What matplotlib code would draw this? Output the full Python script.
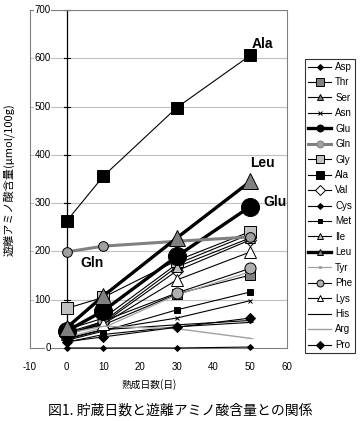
import matplotlib
matplotlib.use("Agg")
import matplotlib.pyplot as plt
from matplotlib.lines import Line2D

plt.rcParams['font.family'] = ['Liberation Sans', 'Noto Sans CJK JP', 'DejaVu Sans']

days = [0, 10, 30, 50]
names = ["Asp", "Thr", "Ser", "Asn", "Glu", "Gln", "Gly", "Ala", "Val", "Cys",
         "Met", "Ile", "Leu", "Tyr", "Phe", "Lys", "His", "Arg", "Pro"]
asp = [20, 38, 48, 57]
thr = [30, 48, 112, 151]
ser = [38, 62, 174, 236]
asn = [18, 38, 62, 98]
glu = [35, 77, 190, 293]
gln = [199, 211, 221, 230]
gly = [82, 105, 181, 241]
ala = [263, 356, 498, 606]
val = [30, 52, 160, 224]
cys = [0, 0, 0, 2]
met = [16, 35, 79, 116]
ile = [32, 55, 168, 228]
leu = [42, 108, 228, 345]
tyr = [22, 42, 110, 158]
phe = [25, 56, 114, 165]
lys = [28, 50, 141, 199]
his = [12, 28, 44, 53]
arg = [30, 45, 40, 20]
pro = [13, 23, 43, 62]
values = [asp, thr, ser, asn, glu, gln, gly, ala, val, cys,
          met, ile, leu, tyr, phe, lys, his, arg, pro]
yticks = [0, 100, 200, 300, 400, 500, 600, 700]
xticks = [-10, 0, 10, 20, 30, 40, 50, 60]
labels = {"Ala": (50.5, 630), "Leu": (50, 384), "Glu": (53.5, 302), "Gln": (3.8, 176)}

# style: color, lw, marker, plot ms, legend ms, mfc
styles = {
    "Asp": ("black", 0.8, "D", 3, 3, "black"),
    "Thr": ("black", 0.8, "s", 7, 6, "#808080"),
    "Ser": ("black", 0.8, "^", 7, 5, "#808080"),
    "Asn": ("black", 0.8, "x", 3, 3, "black"),
    "Glu": ("black", 2.4, "o", 13, 5, "black"),
    "Gln": ("#808080", 2.2, "o", 7, 5, "#a0a0a0"),
    "Gly": ("black", 0.8, "s", 9, 6, "#c0c0c0"),
    "Ala": ("black", 0.8, "s", 9, 6, "black"),
    "Val": ("black", 0.8, "D", 6, 5, "white"),
    "Cys": ("black", 0.8, "D", 3, 3, "black"),
    "Met": ("black", 0.8, "s", 4, 3, "black"),
    "Ile": ("black", 0.8, "^", 7, 5, "#c0c0c0"),
    "Leu": ("black", 2.4, "^", 12, 5, "#808080"),
    "Tyr": ("#a0a0a0", 0.9, "s", 3, 2, "#a0a0a0"),
    "Phe": ("black", 0.8, "o", 8, 5, "#b0b0b0"),
    "Lys": ("black", 0.8, "^", 8, 5, "white"),
    "His": ("black", 0.8, "_", 4, 3, "black"),
    "Arg": ("#a0a0a0", 1.0, "_", 4, 3, "#a0a0a0"),
    "Pro": ("black", 0.8, "D", 5, 4, "black"),
}

fig = plt.figure(figsize=(3.64, 4.21), dpi=100)
ax = fig.add_axes([30/364, 1-348/421, 257/364, 338/421])
ax.set_xlim(-10, 60)
ax.set_ylim(0, 700)
for s in ax.spines.values():
    s.set_color("#808080")
    s.set_linewidth(0.8)
for y in yticks[1:]:
    ax.axhline(y, color="#c0c0c0", lw=0.8, zorder=0)
ax.axvline(0, color="black", lw=0.9, zorder=1)
ax.set_yticks([])
ax.set_xticks(xticks)
ax.set_xticklabels([str(t) for t in xticks], fontsize=7)
ax.tick_params(axis="x", length=0, pad=10)
for y in yticks:
    ax.plot([-0.8, 0.8], [y, y], color="black", lw=0.8, zorder=2, clip_on=False)
    ax.text(-4.3, y, str(y), ha="right", va="center", fontsize=7,
            bbox=dict(facecolor="white", edgecolor="none", pad=0.3), zorder=3)

for i, n in enumerate(names):
    c, lw, m, ms, lms, mfc = styles[n]
    if n in ("Tyr", "Arg"):
        mec = c
    else:
        mec = "black"
    ax.plot(days, values[i], color=c, lw=lw, marker=m, ms=ms, mfc=mfc,
            mec=mec, mew=0.7, zorder=4 + (2 if lw > 2 else 0), clip_on=False)

for t, (x, y) in labels.items():
    ax.text(x, y, t, fontsize=10, fontweight="bold", ha="left", va="center", zorder=10)

handles = []
for n in names:
    c, lw, m, ms, lms, mfc = styles[n]
    mec = c if n in ("Tyr", "Arg") else "black"
    if n == "Gln":
        mec = "#808080"
    handles.append(Line2D([0], [0], color=c, lw=lw, marker=m, ms=lms, mfc=mfc,
                          mec=mec, mew=0.7))
leg = fig.legend(handles, names, loc="upper left", bbox_to_anchor=(305/364, 1-59/421),
                 fontsize=7, frameon=True, fancybox=False, edgecolor="black",
                 labelspacing=0.56, handlelength=2.4, handletextpad=0.4,
                 borderpad=0.3, borderaxespad=0)
leg.get_frame().set_linewidth(0.8)

fig.text(10/364, 1-180/421, "遊離アミノ酸含量(μmol/100g)", rotation=90,
         ha="center", va="center", fontsize=8, family=["Noto Sans CJK JP", "DejaVu Sans"])
fig.text(149/364, 1-385/421, "熟成日数(日)", ha="center", va="center", fontsize=7,
         family=["Noto Sans CJK JP", "DejaVu Sans"])
fig.text(180/364, 1-411/421, "図1. 貯蔵日数と遊離アミノ酸含量との関係", ha="center",
         va="center", fontsize=10, family=["Noto Sans CJK JP", "DejaVu Sans"])

fig.savefig("out.png", dpi=100)
